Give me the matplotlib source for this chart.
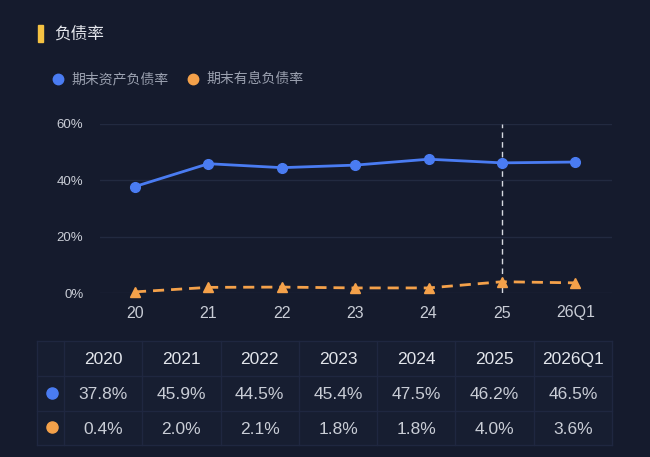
import matplotlib
matplotlib.use("Agg")
import matplotlib.pyplot as plt
from matplotlib.patches import Rectangle

plt.rcParams['font.family'] = ['Liberation Sans', 'Noto Sans CJK SC', 'DejaVu Sans']

# 数据
periods = ['20', '21', '22', '23', '24', '25', '26Q1']
table_headers = ['2020', '2021', '2022', '2023', '2024', '2025', '2026Q1']
asset_ratio = [37.8, 45.9, 44.5, 45.4, 47.5, 46.2, 46.5]      # 期末资产负债率
interest_ratio = [0.4, 2.0, 2.1, 1.8, 1.8, 4.0, 3.6]          # 期末有息负债率
series_names = ['期末资产负债率', '期末有息负债率']
y_ticks = [0, 20, 40, 60]

BG = '#151b2d'
BLUE = '#4a7cf2'
ORANGE = '#f4a14a'
GRID = '#222a40'
TGRID = '#1f2740'
TXT = '#c9cdd6'

W, H = 650, 457
fig = plt.figure(figsize=(W / 100, H / 100), dpi=100, facecolor=BG)

# 折线图
ax = fig.add_axes([100 / W, 1 - 293 / H, 512 / W, 169 / H], facecolor=BG)
x = list(range(len(periods)))
ax.set_xlim(-0.477, 6.5)
ax.set_ylim(0, 60)
for v in y_ticks:
    ax.axhline(v, color=GRID, lw=1, zorder=0)
ax.axvline(5, color='#d6d9e0', lw=1, ls=(0, (4, 3)), zorder=4)

ax.plot(x, asset_ratio, color=BLUE, lw=2, marker='o', ms=7, zorder=5, clip_on=False)
ax.plot(x, interest_ratio, color=ORANGE, lw=2, ls=(0, (4, 2.5)), marker='^', ms=7,
        zorder=5, clip_on=False)

ax.set_xticks(x)
ax.set_xticklabels(periods)
ax.set_yticks(y_ticks)
ax.set_yticklabels([f'{v}%' for v in y_ticks])
ax.tick_params(axis='x', length=0, pad=9, labelsize=11.5, colors=TXT)
ax.tick_params(axis='y', length=0, pad=12, labelsize=9.5, colors=TXT)
for s in ax.spines.values():
    s.set_visible(False)

# 像素坐标层：标题、图例、数据表
tx = fig.add_axes([0, 0, 1, 1], facecolor='none')
tx.set_xlim(0, W)
tx.set_ylim(H, 0)
tx.axis('off')

tx.add_patch(Rectangle((38, 25), 5, 17, color='#f5c242'))
tx.text(54, 34, '负债率', color='#e6e8ee', fontsize=12, va='center', ha='left')

for cx, col, name in [(58, BLUE, series_names[0]), (193, ORANGE, series_names[1])]:
    tx.plot(cx, 79, 'o', color=col, ms=7.5)
    tx.text(cx + 13, 79, name, color='#9ba1b0', fontsize=10, va='center', ha='left')

left, right = 37, 612
first_w = 27
col_w = (right - left - first_w) / len(table_headers)
row_edges = [341, 376, 411, 445]
col_edges = [left, left + first_w] + [left + first_w + col_w * (i + 1) for i in range(len(table_headers))]
tx.add_patch(Rectangle((left, row_edges[0]), right - left, row_edges[-1] - row_edges[0],
                       color='#171e31', zorder=0))
for y in row_edges:
    tx.plot([left, right], [y, y], color=TGRID, lw=1)
for xe in col_edges:
    tx.plot([xe, xe], [row_edges[0], row_edges[-1]], color=TGRID, lw=1)

row_y = [(row_edges[i] + row_edges[i + 1]) / 2 + 1 for i in range(3)]
for i, h in enumerate(table_headers):
    cx = left + first_w + col_w * (i + 0.5)
    tx.text(cx, row_y[0], h, color='#e2e5eb', fontsize=12.5, ha='center', va='center')
    tx.text(cx, row_y[1], f'{asset_ratio[i]:.1f}%', color=TXT, fontsize=12.5, ha='center', va='center')
    tx.text(cx, row_y[2], f'{interest_ratio[i]:.1f}%', color=TXT, fontsize=12.5, ha='center', va='center')

tx.plot(left + first_w / 2 + 1, row_y[1] - 2, 'o', color=BLUE, ms=8)
tx.plot(left + first_w / 2 + 1, row_y[2] - 2, 'o', color=ORANGE, ms=8)

fig.savefig('out.png', dpi=100, facecolor=BG)
